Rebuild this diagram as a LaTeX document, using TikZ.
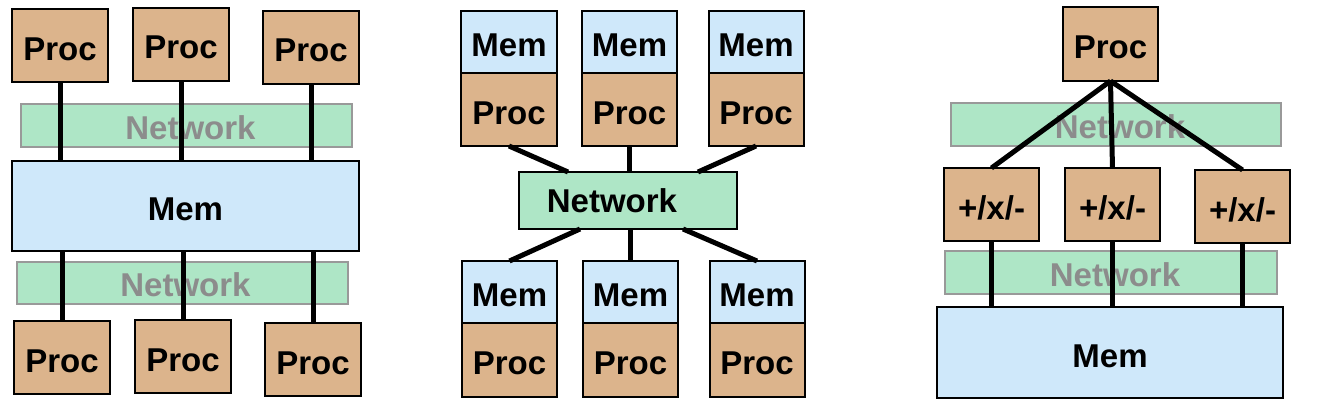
\documentclass[tikz,border=0pt]{standalone}
\usepackage{fontspec}
\setmainfont{Liberation Sans}
\definecolor{procc}{HTML}{DCB48C}
\definecolor{memc}{HTML}{CFE8FA}
\definecolor{netc}{HTML}{AEE6C6}
\definecolor{netborder}{HTML}{999999}
\definecolor{nettext}{HTML}{8C8C8C}
\tikzset{
  box/.style={draw=black, line width=2pt, inner sep=0pt, outer sep=0pt, font=\fontsize{33}{35}\selectfont\bfseries, text=black, text height=29pt, text depth=0pt},
  procbox/.style={box, fill=procc, minimum width=96pt, minimum height=73pt},
  membox/.style={box, fill=memc},
  netbox/.style={draw=netborder, line width=2pt, fill=netc, inner sep=0pt, outer sep=0pt, text=nettext, font=\fontsize{33}{35}\selectfont\bfseries, text height=27pt, text depth=0pt},
  netsolid/.style={box, fill=netc, text height=23.6pt},
  wire/.style={line width=5pt, black}
}
\begin{document}
\begin{tikzpicture}[x=1pt,y=-1pt]
\useasboundingbox (0,0) rectangle (1336,412);
% ---------------- left panel ----------------
\node[netbox, minimum width=331pt, minimum height=43pt] (netA) at (186.5,125.5) {\hspace*{8pt}Network};
\node[netbox, minimum width=331pt, minimum height=42pt] (netB) at (182.5,283) {\hspace*{6pt}Network};
\node[procbox] (p1) at (60,45.5) {Proc};
\node[procbox] (p2) at (181,44.5) {Proc};
\node[procbox] (p3) at (311,47.5) {Proc};
\node[membox, minimum width=347pt, minimum height=90pt] (memA) at (185.5,206) {Mem};
\node[procbox] (p4) at (62,357.5) {Proc};
\node[procbox] (p5) at (183,356.5) {Proc};
\node[procbox] (p6) at (313,359.5) {Proc};
\foreach \p in {p1,p2,p3}{\draw[wire] (\p.south) -- (\p.south |- memA.north);}
\foreach \p in {p4,p5,p6}{\draw[wire] (\p.north) -- (\p.north |- memA.south);}
% ---------------- middle panel ----------------
\node[membox, minimum width=96pt, minimum height=62pt] (m1) at (509,42) {Mem};
\node[procbox, minimum width=96pt, minimum height=73pt] (c1) at (509,109.5) {Proc};
\node[membox, minimum width=95pt, minimum height=62pt] (m2) at (629.5,42) {Mem};
\node[procbox, minimum width=95pt, minimum height=73pt] (c2) at (629.5,109.5) {Proc};
\node[membox, minimum width=95pt, minimum height=62pt] (m3) at (756,42) {Mem};
\node[procbox, minimum width=95pt, minimum height=73pt] (c3) at (756,109.5) {Proc};
\node[netsolid, minimum width=218pt, minimum height=57pt] (net) at (628,200.5) {\hspace*{-32pt}Network};
\node[membox, minimum width=95pt, minimum height=62pt] (bm1) at (509.5,292) {Mem};
\node[procbox, minimum width=95pt, minimum height=74pt] (bp1) at (509.5,360) {Proc};
\node[membox, minimum width=95pt, minimum height=62pt] (bm2) at (630.5,292) {Mem};
\node[procbox, minimum width=95pt, minimum height=74pt] (bp2) at (630.5,360) {Proc};
\node[membox, minimum width=95pt, minimum height=62pt] (bm3) at (757,292) {Mem};
\node[procbox, minimum width=95pt, minimum height=74pt] (bp3) at (757,360) {Proc};
\draw[wire] (c1.south) -- ([xshift=49pt]net.north west);
\draw[wire] (c2.south) -- (c2.south |- net.north);
\draw[wire] (c3.south) -- ([xshift=-39pt]net.north east);
\draw[wire] (bm1.north) -- ([xshift=61pt]net.south west);
\draw[wire] (bm2.north) -- (bm2.north |- net.south);
\draw[wire] (bm3.north) -- ([xshift=-54pt]net.south east);
% ---------------- right panel ----------------
\node[netbox, minimum width=330pt, minimum height=43pt] (netC) at (1116,124.5) {\hspace*{8pt}Network};
\node[netbox, minimum width=332pt, minimum height=43pt] (netD) at (1111,272.5) {\hspace*{8pt}Network};
\node[procbox, minimum width=95pt, minimum height=74pt] (rp) at (1110.5,44) {Proc};
\node[procbox, minimum width=95pt, minimum height=73pt] (a1) at (991.5,204.5) {+/x/-};
\node[procbox, minimum width=95pt, minimum height=73pt] (a2) at (1112.5,204.5) {+/x/-};
\node[procbox, minimum width=95pt, minimum height=73pt] (a3) at (1242.5,206.5) {+/x/-};
\node[membox, minimum width=346pt, minimum height=91pt] (memC) at (1110,352.5) {Mem};
\foreach \a in {a1,a2,a3}{
  \draw[wire] (rp.south) -- (\a.north);
  \draw[wire] (\a.south) -- (\a.south |- memC.north);
}
\end{tikzpicture}
\end{document}
